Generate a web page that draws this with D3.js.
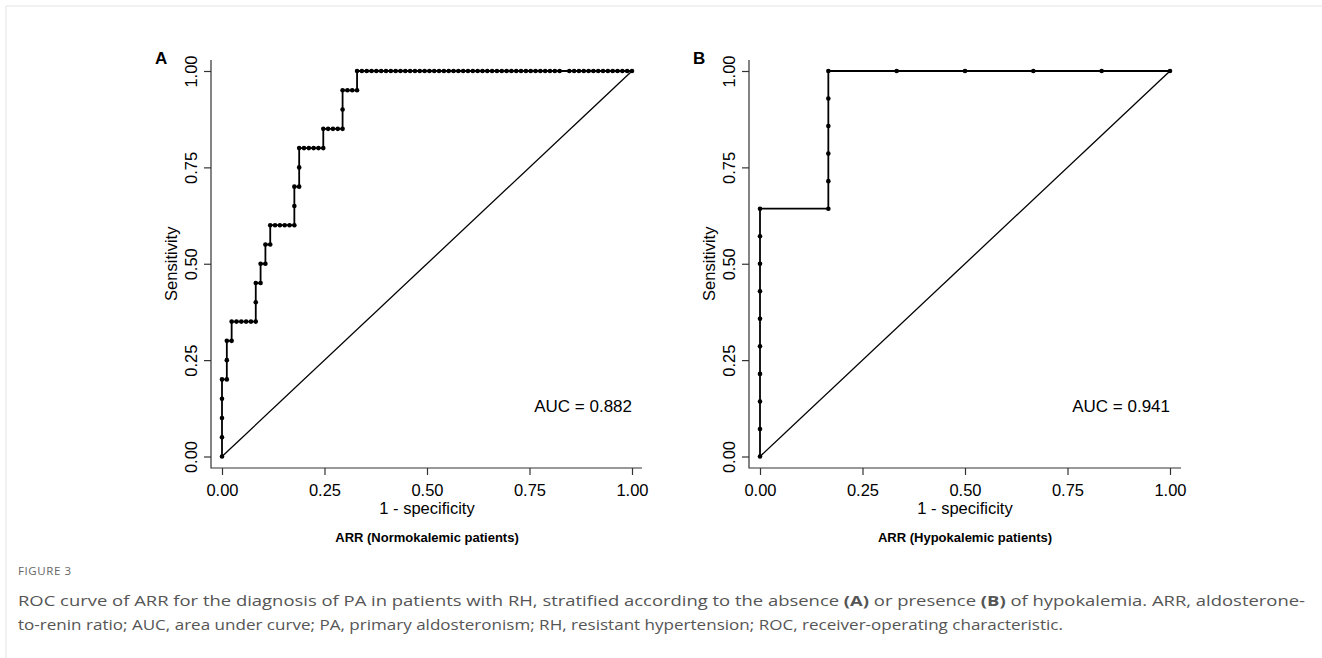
<!DOCTYPE html>
<html>
<head>
<meta charset="utf-8">
<script src="https://cdn.jsdelivr.net/npm/d3@7"></script>
<style>
  body { margin: 0; background: #fff; }
  svg { display: block; }
</style>
</head>
<body>
<div id="chart"></div>
<script>
// panel A: normokalemic, 85 negatives / 20 positives (false-positive and true-positive counts per point)
const nNegA = 85, nPosA = 20;
const fpA = [0, 0, 0, 0, 0, 1, 1, 1, 2, 2, 3, 4, 5, 6, 7, 7, 7, 8, 8, 9, 9, 10, 10,
  11, 12, 13, 14, 15, 15, 15, 16, 16, 16, 17, 18, 19, 20, 21, 21, 22, 23, 24, 25, 25, 25,
  26, 27, 28, 28, 29, 30, 31, 32, 33, 34, 35, 36, 37, 38, 39, 40, 41, 42, 43, 44, 45, 46,
  47, 48, 49, 50, 51, 52, 53, 54, 55, 56, 57, 58, 59, 60, 61, 62, 63, 64, 65, 66, 67, 68,
  69, 70, 72, 73, 74, 75, 76, 77, 78, 79, 80, 81, 82, 83, 84, 85];
const tpA = [0, 1, 2, 3, 4, 4, 5, 6, 6, 7, 7, 7, 7, 7, 7, 8, 9, 9, 10, 10, 11, 11, 12,
  12, 12, 12, 12, 12, 13, 14, 14, 15, 16, 16, 16, 16, 16, 16, 17, 17, 17, 17, 17, 18, 19,
  19, 19, 19, 20, 20, 20, 20, 20, 20, 20, 20, 20, 20, 20, 20, 20, 20, 20, 20, 20, 20, 20,
  20, 20, 20, 20, 20, 20, 20, 20, 20, 20, 20, 20, 20, 20, 20, 20, 20, 20, 20, 20, 20, 20,
  20, 20, 20, 20, 20, 20, 20, 20, 20, 20, 20, 20, 20, 20, 20, 20];

// panel B: hypokalemic, 6 negatives / 14 positives
const nNegB = 6, nPosB = 14;
const fpB = [0, 0, 0, 0, 0, 0, 0, 0, 0, 0, 1, 1, 1, 1, 1, 1, 2, 3, 4, 5, 6];
const tpB = [0, 1, 2, 3, 4, 5, 6, 7, 8, 9, 9, 10, 11, 12, 13, 14, 14, 14, 14, 14, 14];

const tickVals = [0, 0.25, 0.5, 0.75, 1];
const panels = [
  { letter: "A", fp: fpA, tp: tpA, nNeg: nNegA, nPos: nPosA, auc: "AUC = 0.882",
    subtitle: "ARR (Normokalemic patients)", left: 211, x0: 222, x1: 632, right: 642 },
  { letter: "B", fp: fpB, tp: tpB, nNeg: nNegB, nPos: nPosB, auc: "AUC = 0.941",
    subtitle: "ARR (Hypokalemic patients)", left: 749, x0: 760, x1: 1170, right: 1181 }
];

const width = 1322, height = 658;
const boxTop = 60, boxBottom = 468, yZero = 456.5, yOne = 71;
const plotFont = "'Liberation Sans', Arial, sans-serif";

const svg = d3.select("#chart").append("svg")
  .attr("width", width)
  .attr("height", height)
  .attr("viewBox", `0 0 ${width} ${height}`);

// faint frame
svg.append("path")
  .attr("d", `M6,${height} V6 H${width}`)
  .attr("fill", "none")
  .attr("stroke", "#e3e3e3")
  .attr("stroke-width", 1);

const fmt = d3.format(".2f");

panels.forEach(p => {
  const x = d3.scaleLinear().domain([0, 1]).range([p.x0, p.x1]);
  const y = d3.scaleLinear().domain([0, 1]).range([yZero, yOne]);
  const g = svg.append("g").attr("font-family", plotFont);

  // L-shaped box
  g.append("path")
    .attr("d", `M${p.left},${boxTop} V${boxBottom} H${p.right}`)
    .attr("fill", "none")
    .attr("stroke", "#333")
    .attr("stroke-width", 1.2);

  // x axis
  const xa = g.append("g")
    .attr("transform", `translate(0,${boxBottom})`)
    .call(d3.axisBottom(x).tickValues(tickVals).tickFormat(fmt).tickSize(7).tickSizeOuter(0));
  xa.select(".domain").remove();
  xa.selectAll(".tick line").attr("stroke", "#333").attr("stroke-width", 1.2);
  xa.selectAll(".tick text")
    .attr("y", 28)
    .attr("dy", null)
    .attr("fill", "#000")
    .attr("font-size", 16.5)
    .attr("font-family", plotFont);

  // y axis
  const ya = g.append("g")
    .attr("transform", `translate(${p.left},0)`)
    .call(d3.axisLeft(y).tickValues(tickVals).tickFormat(fmt).tickSize(7).tickSizeOuter(0));
  ya.select(".domain").remove();
  ya.selectAll(".tick line").attr("stroke", "#333").attr("stroke-width", 1.2);
  ya.selectAll(".tick text")
    .attr("x", null).attr("dy", null)
    .attr("transform", `translate(-14,0) rotate(-90)`)
    .attr("text-anchor", "middle")
    .attr("fill", "#000")
    .attr("font-size", 16.5)
    .attr("font-family", plotFont);

  // axis titles
  g.append("text")
    .attr("x", (p.x0 + p.x1) / 2)
    .attr("y", 514)
    .attr("text-anchor", "middle")
    .attr("font-size", 16.5)
    .text("1 - specificity");
  g.append("text")
    .attr("transform", `translate(${p.left - 34},${(yZero + yOne) / 2}) rotate(-90)`)
    .attr("text-anchor", "middle")
    .attr("font-size", 16.5)
    .text("Sensitivity");
  g.append("text")
    .attr("x", (p.x0 + p.x1) / 2)
    .attr("y", 542)
    .attr("text-anchor", "middle")
    .attr("font-size", 13)
    .attr("font-weight", "bold")
    .text(p.subtitle);
  g.append("text")
    .attr("x", p.left - 56)
    .attr("y", 64)
    .attr("font-size", 17)
    .attr("font-weight", "bold")
    .text(p.letter);

  // diagonal reference
  g.append("line")
    .attr("x1", x(0)).attr("y1", y(0))
    .attr("x2", x(1)).attr("y2", y(1))
    .attr("stroke", "#000")
    .attr("stroke-width", 1.3);

  // ROC curve
  const pts = p.fp.map((f, i) => [f / p.nNeg, p.tp[i] / p.nPos]);
  g.append("path")
    .datum(pts)
    .attr("d", d3.line().x(d => x(d[0])).y(d => y(d[1])))
    .attr("fill", "none")
    .attr("stroke", "#000")
    .attr("stroke-width", 1.8);
  g.selectAll("circle.pt")
    .data(pts)
    .join("circle")
    .attr("class", "pt")
    .attr("cx", d => x(d[0]))
    .attr("cy", d => y(d[1]))
    .attr("r", 2.3)
    .attr("fill", "#000");

  // AUC label
  g.append("text")
    .attr("x", p.x1)
    .attr("y", 412)
    .attr("text-anchor", "end")
    .attr("font-size", 17)
    .text(p.auc);
});

// caption
const cap = svg.append("g").attr("font-family", "'Open Sans', 'Noto Sans', sans-serif");
cap.append("text")
  .attr("x", 18).attr("y", 575)
  .attr("font-size", 11.5)
  .attr("letter-spacing", 0.6)
  .attr("fill", "#666")
  .text("FIGURE 3");

const line1 = cap.append("text")
  .attr("x", 18).attr("y", 606)
  .attr("font-size", 15)
  .attr("fill", "#555")
  .attr("textLength", 1287)
  .attr("lengthAdjust", "spacingAndGlyphs");
line1.append("tspan").text("ROC curve of ARR for the diagnosis of PA in patients with RH, stratified according to the absence ");
line1.append("tspan").attr("font-weight", "bold").text("(A)");
line1.append("tspan").text(" or presence ");
line1.append("tspan").attr("font-weight", "bold").text("(B)");
line1.append("tspan").text(" of hypokalemia. ARR, aldosterone-");

cap.append("text")
  .attr("x", 18).attr("y", 630)
  .attr("font-size", 15)
  .attr("fill", "#555")
  .attr("textLength", 1045)
  .attr("lengthAdjust", "spacingAndGlyphs")
  .text("to-renin ratio; AUC, area under curve; PA, primary aldosteronism; RH, resistant hypertension; ROC, receiver-operating characteristic.");
</script>
</body>
</html>
